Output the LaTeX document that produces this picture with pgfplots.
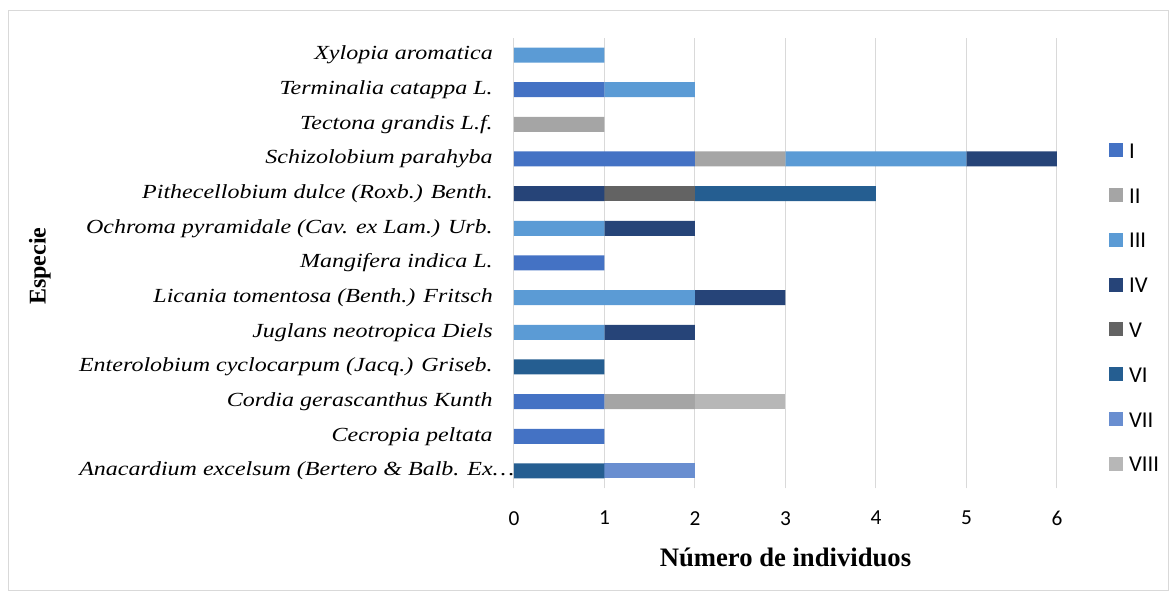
\documentclass[border=0pt]{standalone}
\usepackage{pgfplots}
\usepackage{pgfplotstable}
\pgfplotsset{compat=1.18}
\usepackage{fontspec}
\setmainfont{Liberation Serif}
\newfontfamily\catfont[FakeStretch=1.2]{Liberation Serif}
\newfontfamily\carlito{Carlito}
\definecolor{cI}{HTML}{4472C4}
\definecolor{cII}{HTML}{A5A5A5}
\definecolor{cIII}{HTML}{5B9BD5}
\definecolor{cIV}{HTML}{264478}
\definecolor{cV}{HTML}{636363}
\definecolor{cVI}{HTML}{255E91}
\definecolor{cVII}{HTML}{698ED0}
\definecolor{cVIII}{HTML}{B7B7B7}
\definecolor{gridc}{HTML}{D9D9D9}
\pgfplotsset{sqlegend/.style={legend image code/.code={\fill[##1,draw=none] (0pt,-3.75pt) rectangle (10.5pt,6.75pt);}}}
\pgfplotstableread{
cat I II III IV V VI VII VIII
0  0 0 0 0 0 1 1 0
1  1 0 0 0 0 0 0 0
2  1 1 0 0 0 0 0 1
3  0 0 0 0 0 1 0 0
4  0 0 1 1 0 0 0 0
5  0 0 2 1 0 0 0 0
6  1 0 0 0 0 0 0 0
7  0 0 1 1 0 0 0 0
8  0 0 0 1 1 2 0 0
9  2 1 2 1 0 0 0 0
10 0 1 0 0 0 0 0 0
11 1 0 1 0 0 0 0 0
12 0 0 1 0 0 0 0 0
}\datatable
\begin{document}
\begin{tikzpicture}
\path[use as bounding box] (0pt,0pt) rectangle (879pt,-447.75pt);
\draw[gridc, line width=0.75pt] (6pt,-7.5pt) rectangle (876pt,-442.5pt);
\begin{axis}[
  at={(385.5pt,-366.2pt)}, anchor=south west,
  scale only axis, width=407.25pt, height=337.95pt,
  xbar stacked, bar width=11.25pt,
  xmin=0, xmax=6, ymin=-0.5, ymax=12.5,
  xtick={0,1,2,3,4,5,6},
  ytick={0,...,12},
  yticklabels={{Anacardium excelsum (Bertero \& Balb. Ex\rlap{…}},
    {Cecropia peltata},{Cordia gerascanthus Kunth},
    {Enterolobium cyclocarpum (Jacq.) Griseb.},{Juglans neotropica Diels},
    {Licania tomentosa (Benth.) Fritsch},{Mangifera indica L.},
    {Ochroma pyramidale (Cav. ex Lam.) Urb.},{Pithecellobium dulce (Roxb.) Benth.},
    {Schizolobium parahyba},{Tectona grandis L.f.},{Terminalia catappa L.},
    {Xylopia aromatica}},
  major tick length=0pt,
  axis line style={draw=none},
  xmajorgrids, grid style={gridc, line width=0.75pt},
  yticklabel style={font=\catfont\fontsize{15}{18}\selectfont\itshape, anchor=east, inner sep=0pt, xshift=-15.75pt},
  xticklabel style={font=\carlito\fontsize{16}{18}\selectfont, anchor=north, inner sep=0pt, yshift=-17pt},
  /pgf/number format/assume math mode=true,
  xlabel={\bfseries\fontsize{20}{24}\selectfont Número de individuos},
  xlabel style={at={(0.5,0)}, anchor=center, yshift=-52pt},
  ylabel={\bfseries\fontsize{18}{22}\selectfont Especie},
  ylabel style={at={(-0.873,0.493)}, anchor=center},
  legend style={at={(1.088,0.7745)}, anchor=north west, draw=none, fill=none,
    font=\carlito\fontsize{17}{20}\selectfont, row sep=18.6pt,
    nodes={inner sep=0pt, text height=12pt, text depth=3pt},
    column sep=4.5pt},
  legend cell align=left,
]
\addplot[fill=cI, draw=none, sqlegend] table[x=I, y=cat] {\datatable};
\addplot[fill=cII, draw=none, sqlegend] table[x=II, y=cat] {\datatable};
\addplot[fill=cIII, draw=none, sqlegend] table[x=III, y=cat] {\datatable};
\addplot[fill=cIV, draw=none, sqlegend] table[x=IV, y=cat] {\datatable};
\addplot[fill=cV, draw=none, sqlegend] table[x=V, y=cat] {\datatable};
\addplot[fill=cVI, draw=none, sqlegend] table[x=VI, y=cat] {\datatable};
\addplot[fill=cVII, draw=none, sqlegend] table[x=VII, y=cat] {\datatable};
\addplot[fill=cVIII, draw=none, sqlegend] table[x=VIII, y=cat] {\datatable};
\legend{I,II,III,IV,V,VI,VII,VIII}
\end{axis}
\end{tikzpicture}
\end{document}
